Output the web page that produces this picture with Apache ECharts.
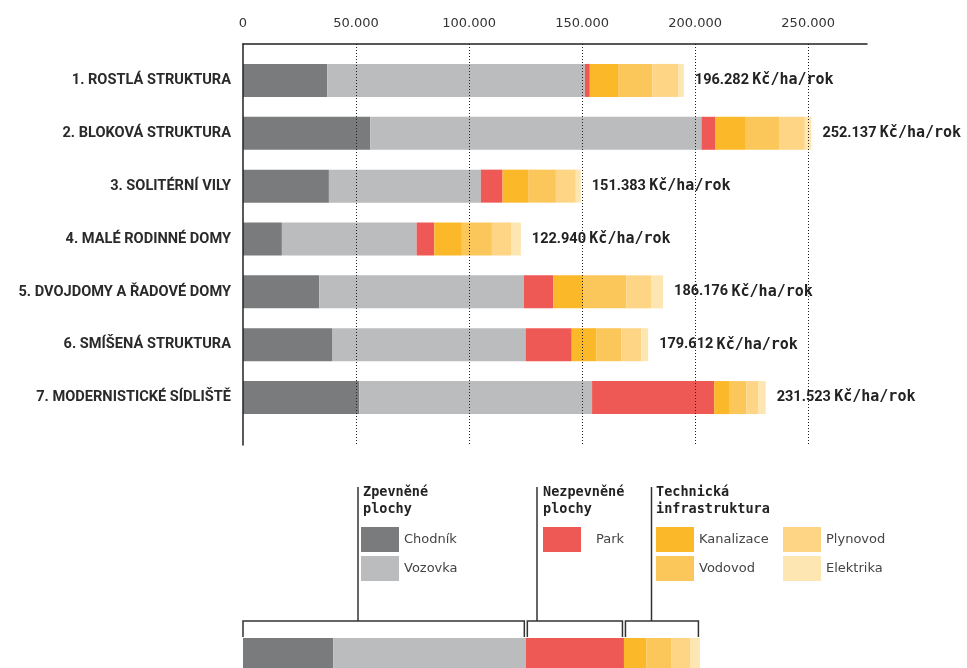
<!DOCTYPE html>
<html>
<head>
<meta charset="utf-8">
<script src="https://cdn.jsdelivr.net/npm/echarts@6/dist/echarts.min.js"></script>
<style>
  html, body { margin: 0; padding: 0; background: #fff; }
  #chart { width: 967px; height: 668px; }
</style>
</head>
<body>
<div id="chart"></div>
<script>
const categories = [
  '1. ROSTLÁ STRUKTURA',
  '2. BLOKOVÁ STRUKTURA',
  '3. SOLITÉRNÍ VILY',
  '4. MALÉ RODINNÉ DOMY',
  '5. DVOJDOMY A ŘADOVÉ DOMY',
  '6. SMÍŠENÁ STRUKTURA',
  '7. MODERNISTICKÉ SÍDLIŠTĚ',
];
const xTicks = [0, 50000, 100000, 150000, 200000, 250000];

// Kč/ha/rok per component
const chodnik = [37300, 56300, 38000, 17200, 33700, 39600, 51400];
const vozovka = [113900, 146500, 67200, 59600, 90500, 85400, 103000];
const park = [2200, 6200, 9600, 7800, 13000, 20400, 54000];
const kanalizace = [12500, 13400, 11300, 12200, 13200, 11000, 6900];
const vodovod = [15200, 14700, 12300, 13300, 19200, 11000, 7400];
const plynovod = [11300, 11400, 8800, 8700, 11100, 8800, 5100];
const elektrika = [2600, 2900, 2200, 4100, 5100, 3000, 3400];
const totals = [196282, 252137, 151383, 122940, 186176, 179612, 231523];

// the example bar under the legend (same order as seriesNames)
const legendBar = [39900, 85200, 43400, 10000, 11100, 8100, 4400];

const seriesNames = ['Chodník', 'Vozovka', 'Park', 'Kanalizace', 'Vodovod', 'Plynovod', 'Elektrika'];
const seriesData = [chodnik, vozovka, park, kanalizace, vodovod, plynovod, elektrika];
const colors = ['#797b7d', '#bbbcbd', '#ee5855', '#fbb828', '#fcc75a', '#fdd585', '#fde6b2'];

const X_MAX = 276000;
const LEFT = 243;
const RIGHT = 100;

function fmt(v) {
  return String(v).replace(/\B(?=(\d{3})+(?!\d))/g, '.');
}

const chart = echarts.init(document.getElementById('chart'));

const mainSeries = seriesData.map((data, i) => ({
  name: seriesNames[i],
  type: 'bar',
  stack: 'main',
  xAxisIndex: 1,
  yAxisIndex: 1,
  barWidth: 33,
  itemStyle: { color: colors[i] },
  data,
  label: i === seriesData.length - 1 ? {
    show: true,
    position: 'right',
    distance: 11,
    formatter: (p) => `{n|${fmt(totals[p.dataIndex])}} {u|Kč/ha/rok}`,
    rich: {
      n: { fontFamily: 'Roboto', fontWeight: 'bold', fontSize: 14.5, color: '#222' },
      u: { fontFamily: 'DejaVu Sans Mono', fontWeight: 'bold', fontSize: 15, color: '#222' },
    },
  } : { show: false },
}));

const exampleSeries = legendBar.map((v, i) => ({
  name: seriesNames[i],
  type: 'bar',
  stack: 'example',
  xAxisIndex: 2,
  yAxisIndex: 2,
  barWidth: '100%',
  itemStyle: { color: colors[i] },
  data: [v],
}));

const legendText = { fontFamily: 'DejaVu Sans', fontSize: 13, color: '#444' };
const legendBase = {
  orient: 'vertical',
  padding: 0,
  itemWidth: 38,
  itemHeight: 25,
  itemGap: 4,
  icon: 'rect',
  selectedMode: false,
  textStyle: legendText,
};

const headerStyle = { fontFamily: 'DejaVu Sans Mono', fontWeight: 'bold', fontSize: 13.5, lineHeight: 17, fill: '#222' };

const option = {
  animation: false,
  grid: [
    // frame: top axis, dotted grid, left line
    { left: LEFT, right: RIGHT, top: 44, height: 401 },
    // bars
    { left: LEFT, right: RIGHT, top: 54, height: 370 },
    // example bar under the legend
    { left: LEFT, right: RIGHT, top: 638, height: 40 },
  ],
  xAxis: [
    {
      gridIndex: 0,
      type: 'value',
      position: 'top',
      min: 0,
      max: X_MAX,
      interval: 50000,
      z: 10,
      axisLine: { show: true, onZero: false, lineStyle: { color: '#222', width: 1.5 } },
      axisTick: { show: false },
      axisLabel: {
        margin: 14,
        showMaxLabel: false,
        fontFamily: 'DejaVu Sans',
        fontSize: 13,
        color: '#333',
        formatter: (v) => (xTicks.includes(v) ? fmt(v) : ''),
      },
      splitLine: {
        show: true,
        showMinLine: false,
        showMaxLine: false,
        lineStyle: { color: '#222', width: 1, type: [1, 2] },
      },
    },
    { gridIndex: 1, type: 'value', min: 0, max: X_MAX, show: false },
    { gridIndex: 2, type: 'value', min: 0, max: X_MAX, show: false },
  ],
  yAxis: [
    {
      gridIndex: 0,
      type: 'value',
      min: 0,
      max: 1,
      z: 10,
      axisLine: { show: true, onZero: false, lineStyle: { color: '#222', width: 1.5 } },
      axisTick: { show: false },
      axisLabel: { show: false },
      splitLine: { show: false },
    },
    {
      gridIndex: 1,
      type: 'category',
      inverse: true,
      data: categories,
      axisLine: { show: false },
      axisTick: { show: false },
      axisLabel: {
        margin: 12,
        fontFamily: 'Roboto',
        fontWeight: 'bold',
        fontSize: 14.6,
        color: '#2a2a2a',
      },
    },
    { gridIndex: 2, type: 'category', data: [''], show: false },
  ],
  legend: [
    { ...legendBase, left: 361, top: 527, data: ['Chodník', 'Vozovka'] },
    { ...legendBase, left: 543, top: 527, data: ['Park'], textStyle: { ...legendText, padding: [0, 0, 0, 10] } },
    { ...legendBase, left: 656, top: 527, data: ['Kanalizace', 'Vodovod'] },
    { ...legendBase, left: 783, top: 527, data: ['Plynovod', 'Elektrika'] },
  ],
  graphic: [
    { type: 'text', left: 363, top: 484, style: { text: 'Zpevněné\nplochy', ...headerStyle } },
    { type: 'text', left: 543, top: 484, style: { text: 'Nezpevněné\nplochy', ...headerStyle } },
    { type: 'text', left: 656, top: 484, style: { text: 'Technická\ninfrastruktura', ...headerStyle } },
  ],
  series: [...mainSeries, ...exampleSeries],
};

chart.setOption(option);

// brackets over the example bar, tied to its segments
const px = (v) => chart.convertToPixel({ xAxisIndex: 2 }, v);
const cum = [];
legendBar.reduce((acc, v) => { cum.push(acc + v); return acc + v; }, 0);
const groups = [
  [0, cum[1], 358],
  [cum[1], cum[2], 537],
  [cum[2], cum[6], 651.5],
];
const bracketY = 621;
const bracketBottom = 637;
const stemTop = 487;
const lineStyle = { stroke: '#333', lineWidth: 1.5 };
const extra = [];
groups.forEach(([a, b, stemX], i) => {
  const x1 = px(a) + (i === 0 ? 0 : 1.5);
  const x2 = px(b) - 1.5;
  extra.push(
    { type: 'polyline', shape: { points: [[x1, bracketBottom], [x1, bracketY], [x2, bracketY], [x2, bracketBottom]] }, style: { ...lineStyle, fill: null } },
    { type: 'line', shape: { x1: stemX, y1: stemTop, x2: stemX, y2: bracketY }, style: lineStyle },
  );
});
chart.setOption({ graphic: [...option.graphic, ...extra] });
</script>
</body>
</html>
